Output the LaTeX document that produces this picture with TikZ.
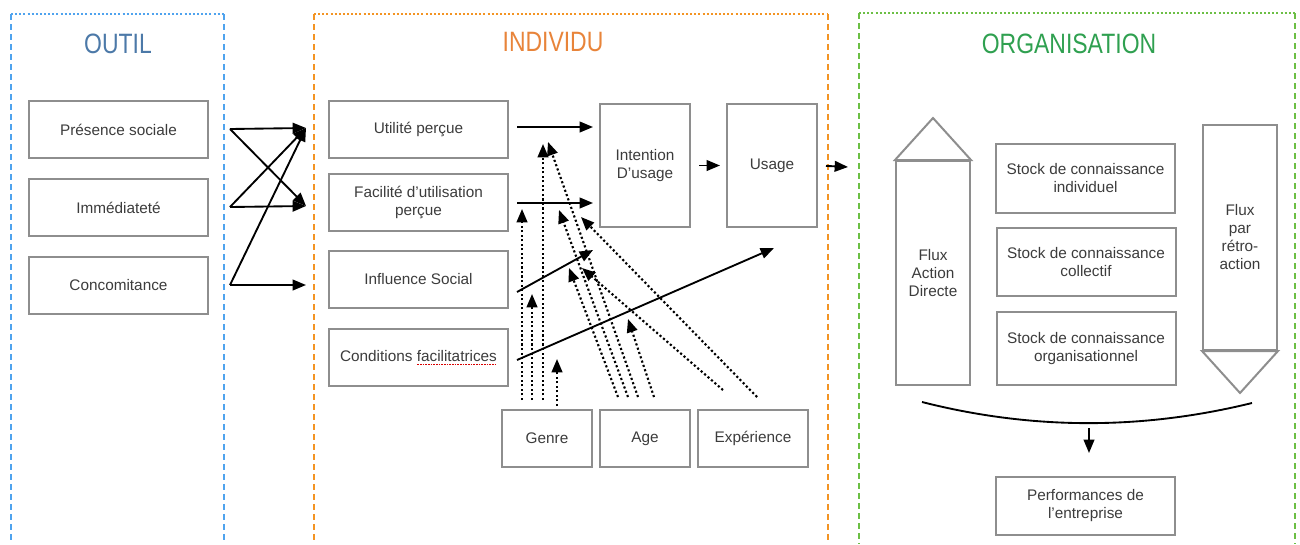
\documentclass[tikz,border=0pt]{standalone}
\usepackage{fontspec}
\setmainfont{Liberation Sans}
\newfontfamily\titlefont[FakeStretch=0.82]{Liberation Sans}
\usetikzlibrary{arrows.meta}
\definecolor{boxgray}{HTML}{8E8E8E}
\definecolor{txtgray}{HTML}{3C3C3C}
\definecolor{cblue}{HTML}{4FA3EE}
\definecolor{corange}{HTML}{F39423}
\definecolor{cgreen}{HTML}{6CBF45}
\definecolor{tblue}{HTML}{4C79A8}
\definecolor{torange}{HTML}{E8843A}
\definecolor{tgreen}{HTML}{2FA050}
\newsavebox\spbox
\newcommand\spellmark[1]{\sbox\spbox{#1}\rlap{\raisebox{-2.8pt}{\textcolor{red!85!black}{\leaders\hbox to 2pt{\hss\rule{1.1pt}{0.9pt}\hss}\hskip\wd\spbox}}}#1}
\begin{document}
\begin{tikzpicture}[x=0.75pt,y=-0.75pt,
  box/.style={draw=boxgray, line width=1.5pt, fill=white, text=txtgray, align=center,
    font=\fontsize{11.5}{13.5}\selectfont, inner sep=0pt},
  wbox/.style={box, minimum width=134.25pt, minimum height=42.75pt},
  tallbox/.style={box, minimum width=67.5pt, minimum height=92.25pt},
  sbox/.style={box, minimum width=67.5pt, minimum height=42.75pt},
  stockbox/.style={box, minimum width=134.25pt},
  fluxbox/.style={box, minimum width=55.5pt},
  tri/.style={draw=boxgray, line width=1.5pt, line join=miter},
  arr/.style={-{Triangle[length=10pt,width=8pt]}, line width=1.4pt, black},
  darr/.style={-{Triangle[length=10pt,width=8pt]}, line width=1.6pt, black, dash pattern=on 1.6pt off 1.8pt},
  ctop/.style={line width=1.3pt, dash pattern=on 1.5pt off 1.6pt},
  cside/.style={line width=1.3pt, dash pattern=on 4.5pt off 3pt},
  title/.style={font=\titlefont\fontsize{21}{21}\selectfont}
]
\useasboundingbox (0,0) rectangle (1300,544);

% containers
\draw[cblue, ctop] (11,14) -- (224,14);
\draw[cblue, cside] (11,14) -- (11,544) (224,14) -- (224,544);
\draw[corange, ctop] (314,14) -- (828,14);
\draw[corange, cside] (314,14) -- (314,544) (828,14) -- (828,544);
\draw[cgreen, ctop] (859,13) -- (1295,13);
\draw[cgreen, cside] (859,13) -- (859,544) (1295,13) -- (1295,544);

\node[title, text=tblue] (toutil) at (118,44) {OUTIL};
\node[title, text=torange] (tind) at (553,42) {INDIVIDU};
\node[title, text=tgreen] (torg) at (1069,44) {ORGANISATION};

% OUTIL boxes
\node[wbox] (pres) at (118.5,129.5) {Présence sociale};
\node[wbox] (imm) at (118.5,207.5) {Immédiateté};
\node[wbox] (conc) at (118.5,285) {Concomitance};

% INDIVIDU boxes
\node[wbox] (util) at (418.5,129.5) {Utilité perçue};
\node[wbox] (faci) at (418.5,202.5) {Facilité d’utilisation\\perçue};
\node[wbox] (infl) at (418.5,279.5) {Influence Social};
\node[wbox] (cond) at (418.5,357.5) {Conditions \spellmark{facilitatrices}};
\node[tallbox] (inten) at (645,165.5) {Intention\\D’usage};
\node[tallbox] (usage) at (772,165.5) {Usage};
\node[sbox] (genre) at (547,438.5) {Genre};
\node[sbox] (age) at (645,438.5) {Age};
\node[sbox, minimum width=82.5pt] (exp) at (753,438.5) {Expérience};

% ORGANISATION
\node[fluxbox, minimum height=168pt] (fluxA) at (933,273) {Flux\\Action\\Directe};
\coordinate (apexA) at (933,118);
\draw[tri] (fluxA.north west) -- (apexA) -- (fluxA.north east) -- cycle;
\node[fluxbox, minimum height=168.75pt] (fluxB) at (1240,237.5) {Flux\\par\\rétro-\\action};
\coordinate (apexB) at (1240,393);
\draw[tri] (fluxB.south west) -- (apexB) -- (fluxB.south east) -- cycle;
\node[stockbox, minimum height=51.75pt] (st1) at (1085.5,178.5) {Stock de connaissance\\individuel};
\node[stockbox, minimum height=51pt] (st2) at (1086,262) {Stock de connaissance\\collectif};
\node[stockbox, minimum height=54.75pt] (st3) at (1086,348.5) {Stock de connaissance\\organisationnel};
\node[wbox, minimum height=43.5pt] (perf) at (1085.5,506) {Performances de\\l’entreprise};

% curve and arrow to performance
\coordinate (k1) at (922,402);
\coordinate (k2) at (1252,403);
\draw[line width=1.4pt] (k1) .. controls (1032,430) and (1142,430) .. (k2);
\coordinate (d1) at (1089,428);
\coordinate (d2) at (1089,453);
\draw[arr] (d1) -- (d2);

% OUTIL -> INDIVIDU arrows
\coordinate (pA) at (230,129);
\coordinate (pB) at (230,207);
\coordinate (pC) at (230,285);
\coordinate (qA) at (306,128);
\coordinate (qB) at (306,206);
\coordinate (qC) at (306,285);
\draw[arr] (pA) -- (qA);
\draw[arr] (pA) -- (qB);
\draw[arr] (pB) -- (qA);
\draw[arr] (pB) -- (qB);
\draw[arr] (pC) -- (qA);
\draw[arr] (pC) -- (qC);

% INDIVIDU solid arrows
\coordinate (u1) at (517,127);
\coordinate (u2) at (593,127);
\coordinate (f1) at (517,203);
\coordinate (f2) at (593,203);
\coordinate (i1) at (517,292);
\coordinate (i2) at (593,250);
\coordinate (c1) at (517,360);
\coordinate (c2) at (774,248);
\draw[arr] (u1) -- (u2);
\draw[arr] (f1) -- (f2);
\draw[arr] (i1) -- (i2);
\draw[arr] (c1) -- (c2);
\draw[arr, shorten <=6pt, shorten >=4.5pt] (inten) -- (usage);
\coordinate (uo) at (848,167);
\draw[arr, shorten <=6pt] (usage.east) -- (uo);

% dotted moderators: Genre
\coordinate (g1a) at (522,400); \coordinate (g1b) at (522,209);
\coordinate (g2a) at (532,400); \coordinate (g2b) at (532,294);
\coordinate (g3a) at (543,400); \coordinate (g3b) at (543,144);
\coordinate (g4a) at (557,406); \coordinate (g4b) at (557,359);
\draw[darr] (g1a) -- (g1b);
\draw[darr] (g2a) -- (g2b);
\draw[darr] (g3a) -- (g3b);
\draw[darr] (g4a) -- (g4b);
% Age
\coordinate (a1a) at (618,397); \coordinate (a1b) at (569,268);
\coordinate (a2a) at (628,397); \coordinate (a2b) at (559,210);
\coordinate (a3a) at (638,397); \coordinate (a3b) at (548,142);
\coordinate (a4a) at (654,397); \coordinate (a4b) at (628,319);
\draw[darr] (a1a) -- (a1b);
\draw[darr] (a2a) -- (a2b);
\draw[darr] (a3a) -- (a3b);
\draw[darr] (a4a) -- (a4b);
% Experience
\coordinate (e1a) at (723,390); \coordinate (e1b) at (582,268);
\coordinate (e2a) at (757,397); \coordinate (e2b) at (581,217);
\draw[darr] (e1a) -- (e1b);
\draw[darr] (e2a) -- (e2b);
\end{tikzpicture}
\end{document}
